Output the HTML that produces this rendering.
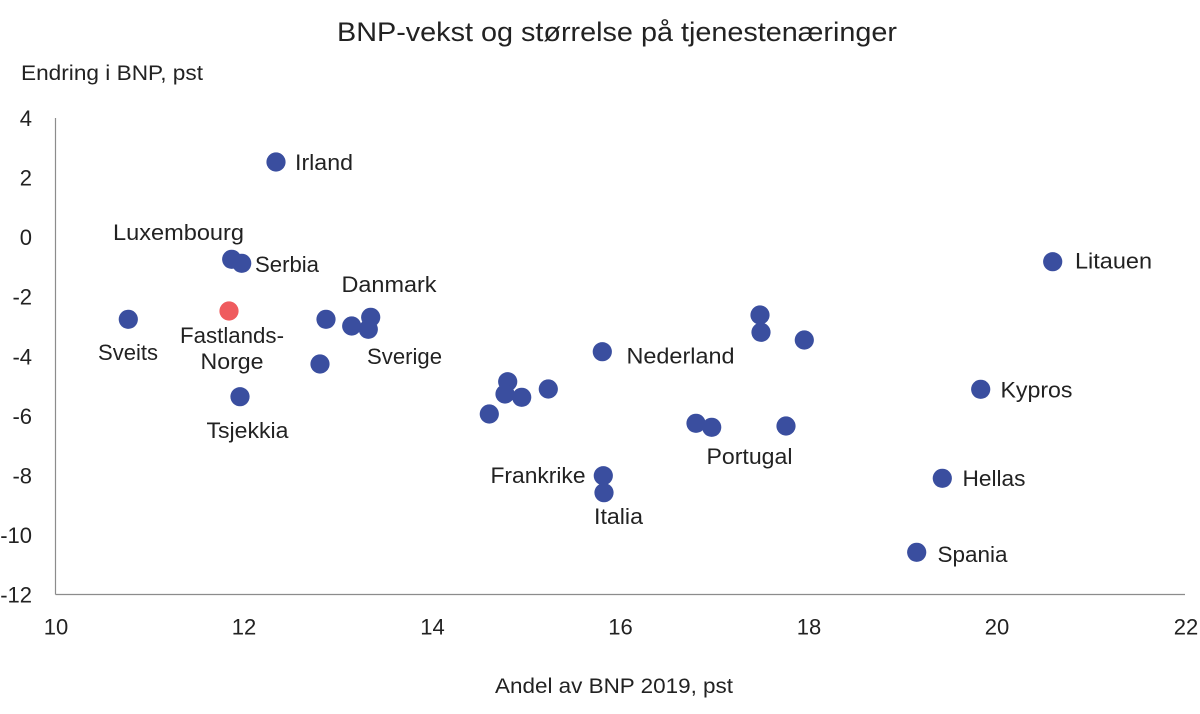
<!DOCTYPE html>
<html>
<head>
<meta charset="utf-8">
<style>
html,body{margin:0;padding:0;background:#fff;}
svg{display:block;}
text{font-family:"Liberation Sans",sans-serif;fill:#222;}
</style>
</head>
<body>
<svg width="1200" height="714" viewBox="0 0 1200 714" xmlns="http://www.w3.org/2000/svg">
<rect width="1200" height="714" fill="#fff"/>
<!-- title -->
<text x="337" y="41" font-size="27" textLength="560" lengthAdjust="spacingAndGlyphs">BNP-vekst og størrelse på tjenestenæringer</text>
<text x="21" y="80" font-size="21" textLength="182" lengthAdjust="spacingAndGlyphs">Endring i BNP, pst</text>
<text x="495" y="693" font-size="21" textLength="238" lengthAdjust="spacingAndGlyphs">Andel av BNP 2019, pst</text>

<!-- axes -->
<line x1="55.5" y1="118" x2="55.5" y2="594.5" stroke="#8c8c8c" stroke-width="1.2"/>
<line x1="55.5" y1="594.5" x2="1185" y2="594.5" stroke="#8c8c8c" stroke-width="1.2"/>

<!-- y ticks -->
<g font-size="22" text-anchor="end">
<text x="32" y="126">4</text>
<text x="32" y="185.5">2</text>
<text x="32" y="245">0</text>
<text x="32" y="304.5">-2</text>
<text x="32" y="364.5">-4</text>
<text x="32" y="424">-6</text>
<text x="32" y="483.5">-8</text>
<text x="32" y="543">-10</text>
<text x="32" y="602.5">-12</text>
</g>
<!-- x ticks -->
<g font-size="22" text-anchor="middle">
<text x="56" y="634.5">10</text>
<text x="244" y="634.5">12</text>
<text x="432.5" y="634.5">14</text>
<text x="620.5" y="634.5">16</text>
<text x="809" y="634.5">18</text>
<text x="997" y="634.5">20</text>
<text x="1186" y="634.5">22</text>
</g>

<!-- dots -->
<g fill="#3A4E9F">
<circle cx="276" cy="162" r="9.6"/>
<circle cx="231.7" cy="259.3" r="9.6"/>
<circle cx="241.7" cy="263.3" r="9.6"/>
<circle cx="128.3" cy="319.3" r="9.6"/>
<circle cx="326" cy="319.3" r="9.6"/>
<circle cx="351.7" cy="326" r="9.6"/>
<circle cx="370.7" cy="317.3" r="9.6"/>
<circle cx="368.3" cy="329.3" r="9.6"/>
<circle cx="320" cy="364" r="9.6"/>
<circle cx="240" cy="396.7" r="9.6"/>
<circle cx="760" cy="315" r="9.6"/>
<circle cx="761" cy="332.3" r="9.6"/>
<circle cx="804.3" cy="340" r="9.6"/>
<circle cx="602.3" cy="351.7" r="9.6"/>
<circle cx="507.7" cy="381.7" r="9.6"/>
<circle cx="505" cy="394" r="9.6"/>
<circle cx="521.7" cy="397.3" r="9.6"/>
<circle cx="548.3" cy="389" r="9.6"/>
<circle cx="489.3" cy="414" r="9.6"/>
<circle cx="696" cy="423.3" r="9.6"/>
<circle cx="711.7" cy="427.3" r="9.6"/>
<circle cx="786" cy="426" r="9.6"/>
<circle cx="603.3" cy="475.7" r="9.6"/>
<circle cx="604" cy="492.7" r="9.6"/>
<circle cx="1052.7" cy="261.7" r="9.6"/>
<circle cx="980.7" cy="389.3" r="9.6"/>
<circle cx="942.3" cy="478.3" r="9.6"/>
<circle cx="916.7" cy="552.3" r="9.6"/>
</g>
<circle cx="229" cy="311" r="9.6" fill="#EF5B5E"/>

<!-- labels -->
<g font-size="22">
<text x="295" y="170" textLength="58" lengthAdjust="spacingAndGlyphs">Irland</text>
<text x="113" y="240" textLength="131" lengthAdjust="spacingAndGlyphs">Luxembourg</text>
<text x="255" y="272" textLength="64" lengthAdjust="spacingAndGlyphs">Serbia</text>
<text x="341.5" y="292" textLength="95" lengthAdjust="spacingAndGlyphs">Danmark</text>
<text x="180" y="343" textLength="104" lengthAdjust="spacingAndGlyphs">Fastlands-</text>
<text x="200.5" y="369" textLength="63" lengthAdjust="spacingAndGlyphs">Norge</text>
<text x="98" y="360" textLength="60" lengthAdjust="spacingAndGlyphs">Sveits</text>
<text x="367" y="364" textLength="75" lengthAdjust="spacingAndGlyphs">Sverige</text>
<text x="206.5" y="438" textLength="82" lengthAdjust="spacingAndGlyphs">Tsjekkia</text>
<text x="626.5" y="363.5" textLength="108" lengthAdjust="spacingAndGlyphs">Nederland</text>
<text x="706.5" y="464" textLength="86" lengthAdjust="spacingAndGlyphs">Portugal</text>
<text x="490.5" y="483" textLength="95" lengthAdjust="spacingAndGlyphs">Frankrike</text>
<text x="594" y="524" textLength="49" lengthAdjust="spacingAndGlyphs">Italia</text>
<text x="1075" y="268.5" textLength="77" lengthAdjust="spacingAndGlyphs">Litauen</text>
<text x="1000.5" y="397.5" textLength="72" lengthAdjust="spacingAndGlyphs">Kypros</text>
<text x="962.5" y="486" textLength="63" lengthAdjust="spacingAndGlyphs">Hellas</text>
<text x="937.5" y="562" textLength="70" lengthAdjust="spacingAndGlyphs">Spania</text>
</g>
</svg>
</body>
</html>
